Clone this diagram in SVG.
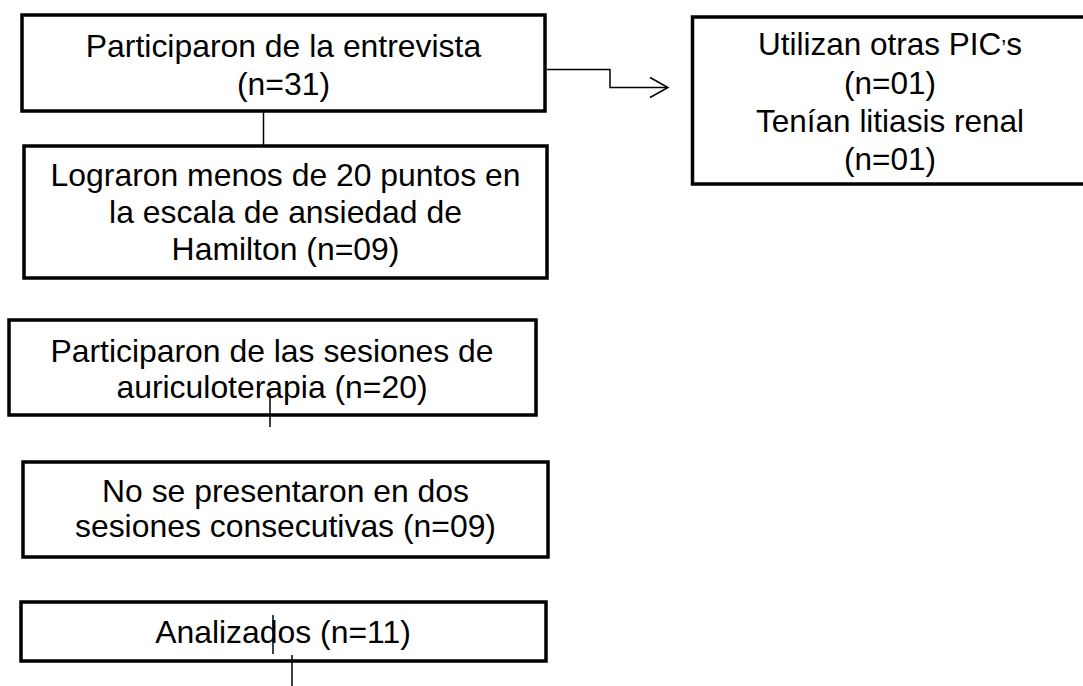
<svg xmlns="http://www.w3.org/2000/svg" width="1083" height="686" viewBox="0 0 1083 686">
<style>
.box{fill:#fff;stroke:#000;stroke-width:3.5}
.t{font-family:"Liberation Sans",Arial,sans-serif;font-size:31.9px;fill:#000;text-anchor:middle}
.r{font-size:31.5px}
.ln{stroke:#000;stroke-width:1.5;fill:none}
</style>
<rect width="1083" height="686" fill="#fff"/>
<g id="n1"><rect class="box" x="22" y="15" width="523" height="96"/>
<text class="t" x="283.5" y="57">Participaron de la entrevista</text>
<text class="t" x="283.5" y="95">(n=31)</text></g>
<g id="n2"><rect class="box" x="24" y="146" width="523" height="132"/>
<text class="t" x="285.5" y="186">Lograron menos de 20 puntos en</text>
<text class="t" x="285.5" y="223">la escala de ansiedad de</text>
<text class="t" x="285.5" y="260">Hamilton (n=09)</text></g>
<g id="n3"><rect class="box" x="9" y="320" width="527" height="95"/>
<text class="t" x="272" y="362">Participaron de las sesiones de</text>
<text class="t" x="272" y="398">auriculoterapia (n=20)</text></g>
<g id="n4"><rect class="box" x="23" y="462" width="525" height="95"/>
<text class="t" x="285.5" y="502">No se presentaron en dos</text>
<text class="t" x="285.5" y="537">sesiones consecutivas (n=09)</text></g>
<g id="n5"><rect class="box" x="21" y="602" width="525" height="59"/>
<text class="t" x="283" y="643">Analizados (n=11)</text></g>
<g id="n6"><rect class="box" x="692.5" y="17" width="420" height="167"/>
<text class="t r" x="890" y="55">Utilizan otras PIC<tspan font-size="22">’</tspan>s</text>
<text class="t r" x="890" y="94">(n=01)</text>
<text class="t r" x="890" y="132">Tenían litiasis renal</text>
<text class="t r" x="890" y="170">(n=01)</text></g>
<g id="connectors">
<line class="ln" x1="263.5" y1="112" x2="263.5" y2="145"/>
<polyline class="ln" points="547,69.5 610,69.5 610,87.5 667,87.5"/>
<polyline class="ln" points="650,77.5 668,87.5 650,97.5" stroke-width="2"/>
<line class="ln" x1="270" y1="393" x2="270" y2="427"/>
<line class="ln" x1="273" y1="615" x2="273" y2="654"/>
<line class="ln" x1="292" y1="655" x2="292" y2="686"/>
</g>
</svg>
